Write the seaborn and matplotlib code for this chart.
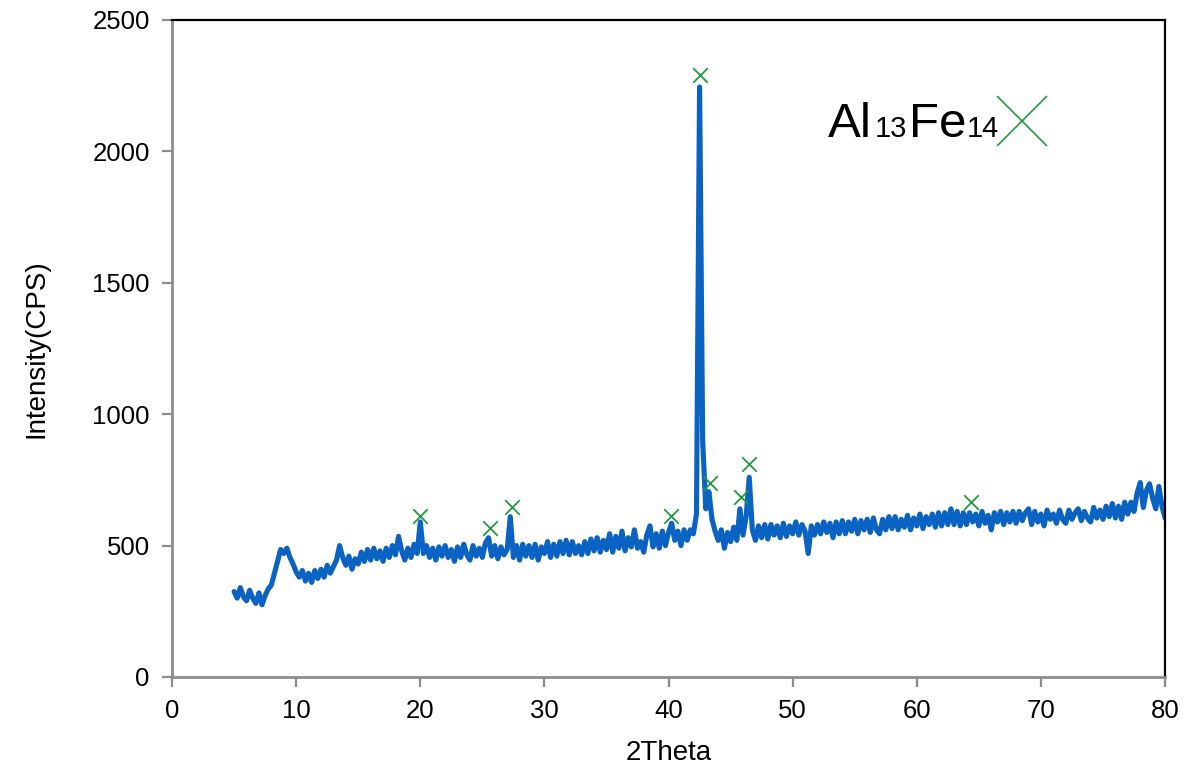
import numpy as np
import pandas as pd
import matplotlib
matplotlib.use("Agg")
import matplotlib.pyplot as plt
import seaborn as sns

# XRD scan: 2-theta from 5 to 80 deg, 0.25 deg sampling
scan_start = 5.0
scan_step = 0.25
intensity = [
    325, 300, 340, 305,   # 5
    290, 330, 300, 280,   # 6
    320, 275, 310, 335,   # 7
    350, 395, 440, 485,   # 8
    470, 490, 455, 430,   # 9
    400, 380, 405, 365,   # 10
    395, 360, 405, 375,   # 11
    410, 380, 425, 395,   # 12
    420, 445, 500, 455,   # 13
    425, 460, 410, 450,   # 14
    430, 475, 440, 485,   # 15
    445, 490, 450, 480,   # 16
    440, 490, 455, 500,   # 17
    465, 535, 480, 445,   # 18
    490, 455, 505, 470,   # 19
    590, 470, 500, 455,   # 20
    490, 445, 495, 460,   # 21
    500, 455, 485, 440,   # 22
    495, 455, 505, 465,   # 23
    445, 500, 460, 490,   # 24
    455, 510, 530, 460,   # 25
    500, 450, 495, 465,   # 26
    485, 610, 455, 500,   # 27
    445, 505, 460, 500,   # 28
    455, 505, 445, 495,   # 29
    470, 515, 455, 505,   # 30
    460, 515, 470, 520,   # 31
    465, 515, 470, 500,   # 32
    465, 515, 470, 525,   # 33
    480, 530, 475, 520,   # 34
    485, 545, 475, 535,   # 35
    490, 555, 480, 530,   # 36
    495, 560, 490, 515,   # 37
    475, 540, 575, 495,   # 38
    545, 490, 555, 500,   # 39
    550, 585, 520, 555,   # 40
    500, 560, 520, 560,   # 41
    545, 620, 2245, 900,  # 42
    640, 705, 600, 555,   # 43
    520, 560, 490, 550,   # 44
    515, 570, 520, 640,   # 45
    540, 610, 760, 560,   # 46
    520, 575, 530, 580,   # 47
    525, 580, 540, 575,   # 48
    530, 585, 535, 575,   # 49
    545, 590, 540, 580,   # 50
    555, 470, 575, 540,   # 51
    580, 545, 590, 550,   # 52
    585, 530, 590, 545,   # 53
    595, 545, 590, 555,   # 54
    600, 545, 595, 560,   # 55
    600, 550, 605, 560,   # 56
    545, 600, 560, 610,   # 57
    565, 610, 560, 600,   # 58
    570, 615, 560, 605,   # 59
    575, 620, 565, 610,   # 60
    580, 620, 570, 625,   # 61
    575, 625, 580, 640,   # 62
    580, 630, 575, 625,   # 63
    580, 625, 590, 620,   # 64
    575, 630, 585, 615,   # 65
    560, 625, 590, 630,   # 66
    580, 625, 590, 630,   # 67
    585, 630, 595, 625,   # 68
    640, 580, 630, 590,   # 69
    620, 575, 635, 600,   # 70
    620, 585, 635, 600,   # 71
    585, 635, 600, 625,   # 72
    640, 595, 630, 605,   # 73
    590, 645, 605, 635,   # 74
    600, 650, 610, 660,   # 75
    605, 650, 600, 665,   # 76
    620, 665, 630, 700,   # 77
    740, 645, 710, 735,   # 78
    680, 640, 725, 650,   # 79
    605,                  # 80
]
two_theta = scan_start + scan_step * np.arange(len(intensity))

# Al13Fe14 reflections (marker positions)
peak_2theta = [20.0, 25.6, 27.4, 40.2, 42.5, 43.3, 45.8, 46.5, 64.4]
peak_mark = [612, 566, 646, 612, 2290, 738, 684, 810, 665]

x_ticks = [0, 10, 20, 30, 40, 50, 60, 70, 80]
y_ticks = [0, 500, 1000, 1500, 2000, 2500]

scan = pd.DataFrame({"2Theta": two_theta, "Intensity": intensity})
peaks = pd.DataFrame({"2Theta": peak_2theta, "Intensity": peak_mark})

sns.set_style("white")
plt.rcParams["font.family"] = ["Liberation Sans", "DejaVu Sans"]
plt.rcParams["text.color"] = "black"
plt.rcParams["axes.labelcolor"] = "black"

line_blue = "#0A63C2"
mark_green = "#239A40"
axis_grey = "#8C8C8C"

fig = plt.figure(figsize=(11.98, 7.66), dpi=100)
ax = fig.add_axes([0.1436, 0.1162, 0.8289, 0.8577])

sns.lineplot(data=scan, x="2Theta", y="Intensity", ax=ax,
             color=line_blue, linewidth=3.7, sort=False)
sns.scatterplot(data=peaks, x="2Theta", y="Intensity", ax=ax,
                marker="x", s=110, color=mark_green, linewidth=1.3, zorder=5)

ax.set_xlim(0, 80)
ax.set_ylim(0, 2500)
ax.set_xticks(x_ticks)
ax.set_yticks(y_ticks)
ax.set_xticklabels([str(v) for v in x_ticks])
ax.set_yticklabels([str(v) for v in y_ticks])

for side in ("left", "bottom"):
    ax.spines[side].set_color(axis_grey)
    ax.spines[side].set_linewidth(2.0)
for side in ("top", "right"):
    ax.spines[side].set_color("black")
    ax.spines[side].set_linewidth(1.6)

ax.tick_params(axis="both", which="major", direction="out", length=7,
               width=1.6, color=axis_grey, labelsize=18.5, labelcolor="black",
               pad=9)
ax.tick_params(axis="x", bottom=True)
ax.tick_params(axis="y", left=True)

ax.set_xlabel("2Theta", fontsize=20, labelpad=12, color="black")
ax.set_ylabel("Intensity(CPS)", fontsize=20, labelpad=31, color="black")

# Phase legend: Al13Fe14 with subscripts on a common baseline
base_y = 1 - 137 / 766
fig.text(828 / 1198, base_y, "Al", fontsize=35.5, va="baseline", ha="left")
fig.text(875 / 1198, base_y, "13", fontsize=21, va="baseline", ha="left")
fig.text(909 / 1198, base_y, "Fe", fontsize=35.5, va="baseline", ha="left")
fig.text(967 / 1198, base_y, "14", fontsize=21, va="baseline", ha="left")
ax.plot([1022 / 1198], [1 - 121 / 766], transform=fig.transFigure,
        marker="x", markersize=36, markeredgewidth=1.2,
        color=mark_green, linestyle="none")

if ax.get_legend() is not None:
    ax.get_legend().remove()

fig.savefig("out.png", dpi=100)
